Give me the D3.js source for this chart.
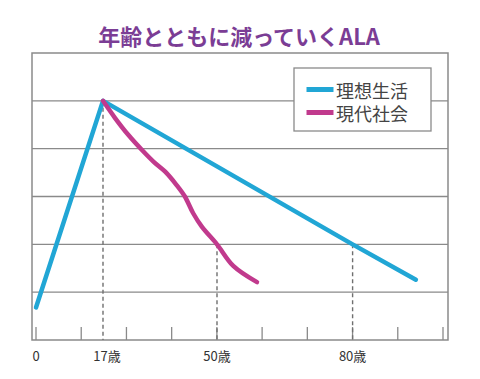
<!DOCTYPE html>
<html>
<head>
<meta charset="utf-8">
<script src="https://cdn.jsdelivr.net/npm/d3@7"></script>
<style>
  html, body { margin: 0; padding: 0; background: #fff; }
  svg { display: block; }
</style>
</head>
<body>
<svg id="chart" width="480" height="379"></svg>
<script>
// ---- data ----
const title = "年齢とともに減っていくALA";
const seriesNames = ["理想生活", "現代社会"];
const idealAges   = [0, 17, 80, 94];
const idealValues = [0.68, 5, 2, 1.26];
const modernAges   = [17, 20.5, 24.3, 28.7, 31.6, 35.0, 38.3, 40.7, 43.1, 45.6, 50, 53.6, 58.85];
const modernValues = [5, 4.64, 4.29, 3.94, 3.73, 3.52, 3.24, 3.0, 2.65, 2.37, 2.0, 1.55, 1.21];
const ageLabels = ["0", "17歳", "50歳", "80歳"];
const labelAges = [0, 17, 50, 80];
const markerAges = [17, 50, 80];          // dashed reference lines
const markerValues = [5, 2, 2];
const gridValues = [1, 2, 3, 4, 5];
const tickCount = 10;

// ---- layout ----
const svg = d3.select("#chart");
const frame = { left: 32, right: 448, top: 53, bottom: 340 };
const x = d3.scaleLinear().domain([0, 17, 50, 100]).range([36, 103, 217, 443]);
const y = d3.scaleLinear().domain([0, 6]).range([frame.bottom, frame.top]);
const tickScale = d3.scaleLinear().domain([0, tickCount - 1]).range([x(0), x(100)]);

const gray = "#8a8a8a";
const blue = "#21a6d5";
const magenta = "#c13a8d";
const purple = "#7b3d95";
const font = "'Noto Sans CJK JP', 'Noto Sans', sans-serif";

// title
svg.append("text")
  .attr("x", 239).attr("y", 45)
  .attr("text-anchor", "middle")
  .attr("font-family", font)
  .attr("font-weight", "bold")
  .attr("font-size", 22)
  .attr("fill", purple)
  .text(title);

// grid lines
svg.append("g").selectAll("line").data(gridValues).join("line")
  .attr("x1", frame.left).attr("x2", frame.right)
  .attr("y1", d => y(d)).attr("y2", d => y(d))
  .attr("stroke", gray).attr("stroke-width", 1.3);

// frame
svg.append("rect")
  .attr("x", frame.left).attr("y", frame.top)
  .attr("width", frame.right - frame.left).attr("height", frame.bottom - frame.top)
  .attr("fill", "none").attr("stroke", gray).attr("stroke-width", 1.5);

// tick marks
svg.append("g").selectAll("line").data(d3.range(tickCount)).join("line")
  .attr("x1", d => tickScale(d)).attr("x2", d => tickScale(d))
  .attr("y1", frame.bottom - 13).attr("y2", frame.bottom)
  .attr("stroke", gray).attr("stroke-width", 1.3);

// dashed markers
svg.append("g").selectAll("line").data(markerAges).join("line")
  .attr("x1", d => x(d)).attr("x2", d => x(d))
  .attr("y1", (d, i) => y(markerValues[i])).attr("y2", frame.bottom)
  .attr("stroke", "#6f6f6f").attr("stroke-width", 1.4)
  .attr("stroke-dasharray", "4,3");

// x labels
svg.append("g").selectAll("text").data(ageLabels).join("text")
  .attr("x", (d, i) => x(labelAges[i]) + (i === 1 ? 4 : 0))
  .attr("y", 361)
  .attr("text-anchor", "middle")
  .attr("font-family", font)
  .attr("font-size", 13)
  .attr("fill", "#333")
  .text(d => d);

// lines
const line = d3.line().x(d => x(d[0])).y(d => y(d[1]));
svg.append("path")
  .datum(d3.zip(idealAges, idealValues))
  .attr("d", line)
  .attr("fill", "none").attr("stroke", blue)
  .attr("stroke-width", 4.5).attr("stroke-linecap", "round").attr("stroke-linejoin", "round");

svg.append("path")
  .datum(d3.zip(modernAges, modernValues))
  .attr("d", line.curve(d3.curveCatmullRom.alpha(0.5)))
  .attr("fill", "none").attr("stroke", magenta)
  .attr("stroke-width", 4.5).attr("stroke-linecap", "round").attr("stroke-linejoin", "round");

// legend
const lg = svg.append("g").attr("transform", "translate(294,68)");
lg.append("rect").attr("x", 0).attr("y", 0).attr("width", 137).attr("height", 63)
  .attr("fill", "#fff").attr("stroke", gray).attr("stroke-width", 1.3);
const colors = [blue, magenta];
seriesNames.forEach((name, i) => {
  const cy = 21.5 + i * 23;
  lg.append("line").attr("x1", 12.5).attr("x2", 39.5).attr("y1", cy).attr("y2", cy)
    .attr("stroke", colors[i]).attr("stroke-width", 5);
  lg.append("text").attr("x", 42).attr("y", cy)
    .attr("dominant-baseline", "central")
    .attr("font-family", font).attr("font-size", 18)
    .attr("fill", "#444")
    .text(name);
});
</script>
</body>
</html>
